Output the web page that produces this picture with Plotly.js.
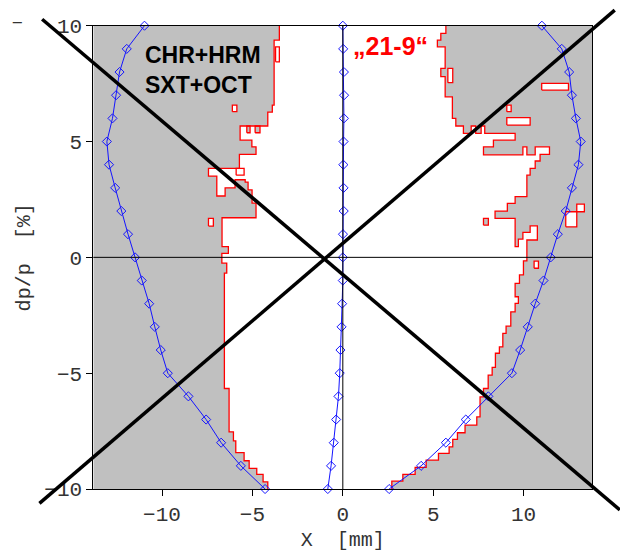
<!DOCTYPE html>
<html><head><meta charset="utf-8">
<script src="https://cdn.plot.ly/plotly-3.0.1.min.js"></script>
<style>html,body{margin:0;padding:0;background:#fff}#chart{width:620px;height:552px}</style>
</head><body><div id="chart"></div>
<script>
// ---- axes ----
const xRange = [-13.8, 13.8];
const yRange = [-10, 10];
const xTicks = [-10, -5, 0, 5, 10];
const yTicks = [-10, -5, 0, 5, 10];

// ---- dynamic aperture curves (blue), one point per dp/p level ----
const dpLevels = [10, 9, 8, 7, 6, 5, 4, 3, 2, 1, 0, -1, -2, -3, -4, -5, -6, -7, -8, -9, -10];
const apertureLeftX  = [-10.97, -11.95, -12.35, -12.54, -12.74, -13.05, -12.93, -12.59, -12.25, -11.88, -11.49, -11.12, -10.71, -10.40, -10.07, -9.68, -8.54, -7.56, -6.73, -5.64, -4.30];
const apertureMidX   = [0.0, 0.02, 0.06, 0.07, 0.06, 0.04, 0.03, 0.04, 0.05, 0.01, 0.0, 0.0, -0.04, -0.07, -0.13, -0.17, -0.24, -0.37, -0.50, -0.65, -0.83];
const apertureRightX = [11.01, 12.11, 12.52, 12.67, 12.89, 13.16, 13.03, 12.67, 12.33, 11.89, 11.50, 11.10, 10.64, 10.23, 9.81, 9.35, 8.05, 6.80, 5.70, 4.33, 2.56];

// ---- "21-9" stable-region boundaries (red), top to bottom ----
const leftBoundX = [-3.51, -3.51, -3.80, -3.80, -3.90, -3.90, -4.15, -4.15, -5.68, -5.68, -5.03, -5.03, -4.80, -4.80, -5.72, -5.72, -7.43, -7.43, -6.97, -6.97, -6.51, -6.51, -5.96, -5.96, -5.40, -5.40, -5.24, -5.24, -5.02, -5.02, -4.80, -4.80, -6.68, -6.68, -6.33, -6.33, -6.69, -6.69, -6.42, -6.42, -6.55, -6.55, -6.29, -6.29, -6.05, -6.05, -5.92, -5.92, -5.46, -5.46, -5.18, -5.18, -4.76, -4.76, -4.41, -4.41, -4.15, -4.15];
const leftBoundY = [10, 9.38, 9.38, 6.57, 6.57, 6.27, 6.27, 5.67, 5.67, 5.06, 5.06, 4.77, 4.77, 4.45, 4.45, 3.84, 3.84, 3.51, 3.51, 2.65, 2.65, 3.00, 3.00, 3.35, 3.35, 3.25, 3.25, 2.91, 2.91, 2.34, 2.34, 1.71, 1.71, 0.46, 0.46, 0.17, 0.17, -0.25, -0.25, -0.68, -0.68, -5.66, -5.66, -7.53, -7.53, -7.92, -7.92, -8.43, -8.43, -8.78, -8.78, -9.11, -9.11, -9.37, -9.37, -9.69, -9.69, -10];

const rightBoundX = [5.70, 5.70, 5.42, 5.42, 5.23, 5.23, 5.66, 5.66, 5.42, 5.42, 5.66, 5.66, 6.06, 6.06, 6.25, 6.25, 6.67, 6.67, 7.10, 7.10, 7.35, 7.35, 7.65, 7.65, 7.85, 7.85, 9.53, 9.53, 8.33, 8.33, 7.78, 7.78, 9.96, 9.96, 10.18, 10.18, 10.64, 10.64, 11.43, 11.43, 10.91, 10.91, 10.64, 10.64, 10.36, 10.36, 10.18, 10.18, 9.53, 9.53, 9.10, 9.10, 8.42, 8.42, 9.53, 9.53, 9.71, 9.71, 9.96, 9.96, 10.36, 10.36, 10.76, 10.76, 10.18, 10.18, 9.99, 9.99, 9.77, 9.77, 9.53, 9.53, 9.71, 9.71, 9.53, 9.53, 9.29, 9.29, 9.03, 9.03, 8.85, 8.85, 8.66, 8.66, 8.44, 8.44, 8.26, 8.26, 8.04, 8.04, 7.78, 7.78, 7.59, 7.59, 7.41, 7.41, 6.76, 6.76, 6.34, 6.34, 6.08, 6.08, 5.88, 5.88, 5.29, 5.29, 4.61, 4.61, 4.00, 4.00, 3.32, 3.32, 2.71, 2.71];
const rightBoundY = [10, 9.67, 9.67, 9.38, 9.38, 9.09, 9.09, 8.16, 8.16, 7.80, 7.80, 6.93, 6.93, 6.00, 6.00, 5.67, 5.67, 5.35, 5.35, 5.67, 5.67, 5.35, 5.35, 5.67, 5.67, 5.35, 5.35, 5.06, 5.06, 4.77, 4.77, 4.42, 4.42, 4.77, 4.77, 4.42, 4.42, 4.77, 4.77, 4.45, 4.45, 4.16, 4.16, 3.84, 3.84, 3.55, 3.55, 2.62, 2.62, 2.33, 2.33, 2.00, 2.00, 1.68, 1.68, 0.46, 0.46, 0.79, 0.79, 1.08, 1.08, 1.36, 1.36, 0.75, 0.75, -0.15, -0.15, -0.76, -0.76, -1.12, -1.12, -1.70, -1.70, -1.99, -1.99, -2.35, -2.35, -2.97, -2.97, -3.28, -3.28, -3.86, -3.86, -4.14, -4.14, -4.75, -4.75, -5.08, -5.08, -5.66, -5.66, -6.02, -6.02, -6.89, -6.89, -7.24, -7.24, -7.57, -7.57, -7.86, -7.86, -8.18, -8.18, -8.46, -8.46, -8.75, -8.75, -9.07, -9.07, -9.37, -9.37, -9.66, -9.66, -10];

// unstable holes inside the stable region (rectangles)
const holeX0 = [5.81, 11.00, 9.07, 9.07, 10.58, -6.11, -7.43, -5.90, -3.72];
const holeX1 = [6.08, 12.48, 9.31, 10.36, 10.82, -5.86, -7.16, -5.46, -3.51];
const holeY0 = [7.54, 7.22, 6.29, 5.71, -0.47, 6.29, 1.35, 3.55, 8.44];
const holeY1 = [8.16, 7.51, 6.57, 6.03, -0.16, 6.57, 1.68, 3.84, 9.09];
// L-shaped hole near the right aperture
const lHoleX = [12.33, 12.94, 12.94, 13.36, 13.36, 12.94, 12.94, 12.33, 12.33];
const lHoleY = [1.32, 1.32, 1.97, 1.97, 2.30, 2.30, 1.97, 1.97, 1.32];
// isolated stable islands / teeth
const islandX0 = [7.78, -5.31, -4.85];
const islandX1 = [8.05, -5.13, -4.58];
const islandY0 = [1.39, 5.38, 5.38];
const islandY1 = [1.68, 5.67, 5.67];

// ---- resonance lines (black) ----
const diagAX = [-16.63, 15.32], diagAY = [10.28, -10.90];
const diagBX = [-16.78, 15.04], diagBY = [-10.62, 10.67];

// ---- styling ----
const gray = '#c0c0c0', red = '#ff0000', blue = '#1414ff';
const monoFont = 'Liberation Mono, DejaVu Sans Mono, monospace';

function rectsToPath(x0, x1, y0, y1) {
  const xs = [], ys = [];
  for (let i = 0; i < x0.length; i++) {
    xs.push(x0[i], x1[i], x1[i], x0[i], x0[i], null);
    ys.push(y0[i], y0[i], y1[i], y1[i], y0[i], null);
  }
  return {xs, ys};
}

const traces = [];
traces.push({x: [xRange[0]].concat(leftBoundX, [xRange[0]]),
             y: [leftBoundY[0]].concat(leftBoundY, [leftBoundY[leftBoundY.length - 1]]),
             mode: 'lines', fill: 'toself', fillcolor: gray, line: {width: 0}, hoverinfo: 'skip'});
traces.push({x: [xRange[1]].concat(rightBoundX, [xRange[1]]),
             y: [rightBoundY[0]].concat(rightBoundY, [rightBoundY[rightBoundY.length - 1]]),
             mode: 'lines', fill: 'toself', fillcolor: gray, line: {width: 0}, hoverinfo: 'skip'});
const holes = rectsToPath(holeX0, holeX1, holeY0, holeY1);
traces.push({x: holes.xs.concat(lHoleX), y: holes.ys.concat(lHoleY), mode: 'lines', fill: 'toself',
             fillcolor: '#ffffff', line: {color: red, width: 1.3}, connectgaps: false, hoverinfo: 'skip'});
const isl = rectsToPath(islandX0, islandX1, islandY0, islandY1);
traces.push({x: isl.xs, y: isl.ys, mode: 'lines', fill: 'toself', fillcolor: gray,
             line: {color: red, width: 1.3}, connectgaps: false, hoverinfo: 'skip'});
traces.push({x: leftBoundX, y: leftBoundY, mode: 'lines', line: {color: red, width: 1.3}, hoverinfo: 'skip'});
traces.push({x: rightBoundX, y: rightBoundY, mode: 'lines', line: {color: red, width: 1.3}, hoverinfo: 'skip'});
[apertureLeftX, apertureMidX, apertureRightX].forEach(xs => {
  traces.push({x: xs, y: dpLevels, mode: 'lines+markers', line: {color: blue, width: 1},
               marker: {symbol: 'diamond-open', size: 7, color: blue, line: {width: 1, color: blue}}, cliponaxis: false});
});
traces.push({x: diagAX, y: diagAY, xaxis: 'x2', yaxis: 'y2', mode: 'lines', line: {color: '#000', width: 3.5}});
traces.push({x: diagBX, y: diagBY, xaxis: 'x2', yaxis: 'y2', mode: 'lines', line: {color: '#000', width: 3.5}});

const xDom = [0.1073, 0.9531], yDom = [0.0527, 0.9576];
function extendRange(r, d) {
  const u = (r[1] - r[0]) / (d[1] - d[0]);
  return [r[0] - d[0] * u, r[0] + (1 - d[0]) * u];
}

const axisCommon = {showgrid: false, zeroline: false, showline: true, mirror: true, linecolor: '#000', linewidth: 1,
  ticks: 'outside', ticklen: 6, tickcolor: '#000', tickfont: {family: monoFont, size: 21, color: '#333'}};

const layout = {
  width: 620, height: 552, showlegend: false,
  margin: {l: 30, r: 0, t: 4, b: 36},
  paper_bgcolor: '#fff', plot_bgcolor: 'rgba(0,0,0,0)',
  xaxis: Object.assign({}, axisCommon, {domain: xDom, range: xRange, tickvals: xTicks, anchor: 'y',
    title: {text: 'X\u00a0\u00a0[mm]', font: {family: monoFont, size: 20, color: '#333'}, standoff: 6}}),
  yaxis: Object.assign({}, axisCommon, {domain: yDom, range: yRange, tickvals: yTicks, anchor: 'x',
    title: {text: 'dp/p\u00a0\u00a0[%]', font: {family: monoFont, size: 20, color: '#333'}, standoff: 8}}),
  xaxis2: {domain: [0, 1], range: extendRange(xRange, xDom), visible: false, anchor: 'y2'},
  yaxis2: {domain: [0, 1], range: extendRange(yRange, yDom), visible: false, anchor: 'x2'},
  shapes: [
    {type: 'line', xref: 'x domain', yref: 'y', x0: 0, x1: 1, y0: 0, y1: 0, line: {color: '#000', width: 1}, layer: 'above'},
    {type: 'line', xref: 'x', yref: 'y domain', x0: 0, x1: 0, y0: 0, y1: 1, line: {color: '#000', width: 1}, layer: 'above'}
  ],
  annotations: [
    {xref: 'x', yref: 'y', x: -11.05, y: 8.1, xanchor: 'left', yanchor: 'middle', align: 'left', showarrow: false,
     text: '<b>CHR+HRM<br>SXT+OCT</b>', font: {family: 'Liberation Sans, Arial, sans-serif', size: 23, color: '#000'}},
    {xref: 'x', yref: 'y', x: 0.43, y: 9.12, xanchor: 'left', yanchor: 'middle', showarrow: false,
     text: '<b>\u201E21-9\u201C</b>', font: {family: 'Liberation Sans, Arial, sans-serif', size: 25, color: red}},
    {xref: 'paper', yref: 'paper', x: -0.022, y: 0.963, xanchor: 'center', yanchor: 'middle', showarrow: false,
     text: '\u2013', font: {family: monoFont, size: 21, color: '#333'}}
  ]
};

Plotly.newPlot('chart', traces, layout, {displayModeBar: false, staticPlot: true});
</script>
</body></html>
